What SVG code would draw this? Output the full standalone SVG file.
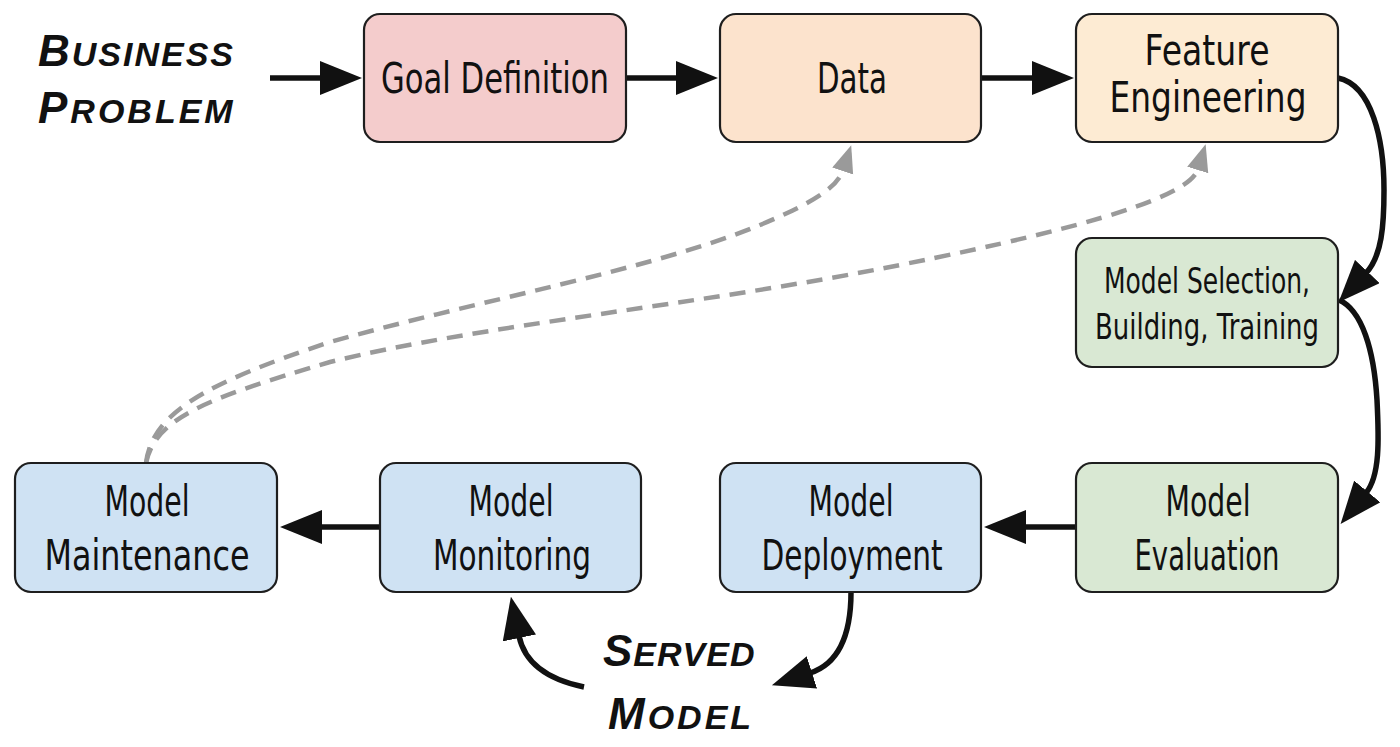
<svg xmlns="http://www.w3.org/2000/svg" width="1400" height="747" viewBox="0 0 1400 747">
<style>
.box{stroke:#1e1e1e;stroke-width:2.2}
.t{font-family:"DejaVu Sans","Liberation Sans",sans-serif;fill:#111;text-anchor:middle;font-size:43px}
.s{font-size:35px}
.big{font-family:"Liberation Sans","DejaVu Sans",sans-serif;font-weight:bold;font-style:italic;fill:#111}
.c{fill:none;stroke:#111;stroke-width:5.5}
.d{fill:none;stroke:#9a9a9a;stroke-width:4.5;stroke-dasharray:16 10}
</style>
<defs>
<marker id="ah" markerUnits="userSpaceOnUse" markerWidth="44" markerHeight="34" refX="2" refY="17" orient="auto">
<path d="M0,0 L42,17 L0,34 z" fill="#111"/>
</marker>
<marker id="ag" markerUnits="userSpaceOnUse" markerWidth="30" markerHeight="24" refX="1" refY="11" orient="auto">
<path d="M0,0 L27,11 L0,22 z" fill="#9a9a9a"/>
</marker>
</defs>
<rect width="1400" height="747" fill="#fff"/>

<g id="connectors">
<path class="c" d="M270,78 L322,78" marker-end="url(#ah)"/>
<path class="c" d="M626,78 L678,78" marker-end="url(#ah)"/>
<path class="c" d="M981,78 L1034,78" marker-end="url(#ah)"/>
<path class="c" d="M1338,78 C1372,85 1384,140 1384,190 C1384,225 1382,256 1366,273" marker-end="url(#ah)"/>
<path class="c" d="M1339,300 C1362,310 1374,350 1377,400 C1379,440 1380,476 1366,493" marker-end="url(#ah)"/>
<path class="c" d="M1076,527 L1024,527" marker-end="url(#ah)"/>
<path class="c" d="M380,527 L320,527" marker-end="url(#ah)"/>
<path class="c" d="M851,592 C851,640 835,665 810,673" marker-end="url(#ah)"/>
<path class="c" d="M584,687 C550,680 525,665 519,636" marker-end="url(#ah)"/>
<path class="d" d="M146,463 C152,415 200,385 330,342 C480,300 650,270 760,225 C820,200 838,185 843,170" marker-end="url(#ag)"/>
<path class="d" d="M146,463 C155,420 200,400 330,362 C480,325 700,305 900,265 C1100,225 1190,195 1198,169" marker-end="url(#ag)"/>
</g>

<g id="business-problem">
<text class="big" x="38" y="66" letter-spacing="2"><tspan font-size="44">B</tspan><tspan font-size="34">USINESS</tspan></text>
<text class="big" x="38" y="123" letter-spacing="3"><tspan font-size="44">P</tspan><tspan font-size="34">ROBLEM</tspan></text>
</g>

<g id="goal-definition">
<rect class="box" x="364" y="14" width="262" height="128" rx="16" fill="#f4cccc"/>
<text class="t" x="495" y="93" textLength="228" lengthAdjust="spacingAndGlyphs">Goal Definition</text>
</g>

<g id="data">
<rect class="box" x="720" y="14" width="261" height="128" rx="16" fill="#fce3cd"/>
<text class="t" x="852" y="93" textLength="70" lengthAdjust="spacingAndGlyphs">Data</text>
</g>

<g id="feature-engineering">
<rect class="box" x="1076" y="14" width="262" height="128" rx="16" fill="#fdebd3"/>
<text class="t" x="1207" y="65" textLength="125" lengthAdjust="spacingAndGlyphs">Feature</text>
<text class="t" x="1208" y="112" textLength="197" lengthAdjust="spacingAndGlyphs">Engineering</text>
</g>

<g id="model-selection">
<rect class="box" x="1076" y="238" width="262" height="129" rx="16" fill="#d9e8d3"/>
<text class="t s" x="1207" y="293" textLength="206" lengthAdjust="spacingAndGlyphs">Model Selection,</text>
<text class="t s" x="1207" y="339" textLength="224" lengthAdjust="spacingAndGlyphs">Building, Training</text>
</g>

<g id="model-evaluation">
<rect class="box" x="1076" y="463" width="262" height="129" rx="16" fill="#d9e8d3"/>
<text class="t" x="1208" y="516" textLength="85" lengthAdjust="spacingAndGlyphs">Model</text>
<text class="t" x="1207" y="570" textLength="145" lengthAdjust="spacingAndGlyphs">Evaluation</text>
</g>

<g id="model-deployment">
<rect class="box" x="720" y="463" width="261" height="129" rx="16" fill="#cfe2f3"/>
<text class="t" x="851" y="516" textLength="85" lengthAdjust="spacingAndGlyphs">Model</text>
<text class="t" x="852" y="570" textLength="181" lengthAdjust="spacingAndGlyphs">Deployment</text>
</g>

<g id="model-monitoring">
<rect class="box" x="380" y="463" width="261" height="129" rx="16" fill="#cfe2f3"/>
<text class="t" x="511" y="516" textLength="85" lengthAdjust="spacingAndGlyphs">Model</text>
<text class="t" x="512" y="570" textLength="158" lengthAdjust="spacingAndGlyphs">Monitoring</text>
</g>

<g id="model-maintenance">
<rect class="box" x="15" y="463" width="262" height="129" rx="16" fill="#cfe2f3"/>
<text class="t" x="147" y="516" textLength="85" lengthAdjust="spacingAndGlyphs">Model</text>
<text class="t" x="147" y="570" textLength="205" lengthAdjust="spacingAndGlyphs">Maintenance</text>
</g>

<g id="served-model">
<text class="big" x="603" y="666" letter-spacing="1"><tspan font-size="44">S</tspan><tspan font-size="34">ERVED</tspan></text>
<text class="big" x="608" y="729" letter-spacing="3"><tspan font-size="44">M</tspan><tspan font-size="34">ODEL</tspan></text>
</g>
</svg>
